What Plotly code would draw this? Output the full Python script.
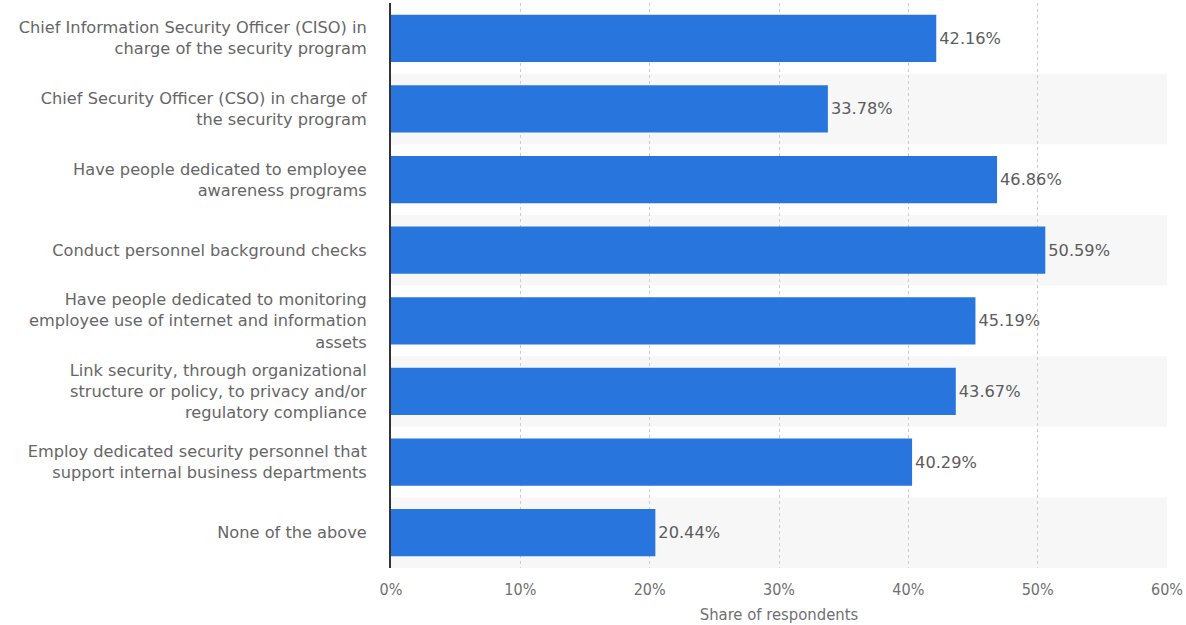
import plotly.graph_objects as go

categories = [
    "Chief Information Security Officer (CISO) in<br>charge of the security program",
    "Chief Security Officer (CSO) in charge of<br>the security program",
    "Have people dedicated to employee<br>awareness programs",
    "Conduct personnel background checks",
    "Have people dedicated to monitoring<br>employee use of internet and information<br>assets",
    "Link security, through organizational<br>structure or policy, to privacy and/or<br>regulatory compliance",
    "Employ dedicated security personnel that<br>support internal business departments",
    "None of the above",
]
shares = [42.16, 33.78, 46.86, 50.59, 45.19, 43.67, 40.29, 20.44]
x_ticks = [0, 10, 20, 30, 40, 50, 60]
x_tick_labels = ["0%", "10%", "20%", "30%", "40%", "50%", "60%"]

fig = go.Figure(
    go.Bar(
        x=shares,
        y=categories,
        orientation="h",
        width=0.67,
        marker=dict(color="#2876dd", line=dict(width=0)),
        text=[f"{v:.2f}%" for v in shares],
        textposition="outside",
        textfont=dict(family="DejaVu Sans", size=16.2, color="#5c5c5c"),
        cliponaxis=False,
    )
)

# alternating light bands behind every other category
shapes = []
for i in range(len(categories)):
    if i % 2 == 1:
        shapes.append(dict(
            type="rect", xref="paper", yref="y", layer="below",
            x0=0, x1=1, y0=i - 0.5, y1=i + 0.5,
            fillcolor="#f7f7f7", line=dict(width=0),
        ))

fig.update_layout(
    width=1186, height=625,
    margin=dict(l=391, r=17, t=3, b=57),
    paper_bgcolor="white", plot_bgcolor="white",
    shapes=shapes,
    showlegend=False,
    font=dict(family="DejaVu Sans", size=16.2, color="#666666"),
)
fig.update_xaxes(
    range=[0, 60],
    tickvals=x_ticks, ticktext=x_tick_labels,
    tickfont=dict(family="DejaVu Sans Condensed, DejaVu Sans", size=16, color="#707070"),
    showgrid=True, gridcolor="#cccccc", griddash="dot", gridwidth=1,
    zeroline=False, showline=False,
    title=dict(text="Share of respondents",
               font=dict(family="DejaVu Sans Condensed, DejaVu Sans", size=16.5, color="#707070"),
               standoff=10),
    ticks="", ticklabelstandoff=10,
)
fig.update_yaxes(
    autorange="reversed",
    showline=True, linecolor="#333333", linewidth=2,
    showgrid=False, ticks="", ticklabelstandoff=19,
    tickfont=dict(family="DejaVu Sans", size=16.2, color="#666666"),
)

fig.write_html("out.html")
